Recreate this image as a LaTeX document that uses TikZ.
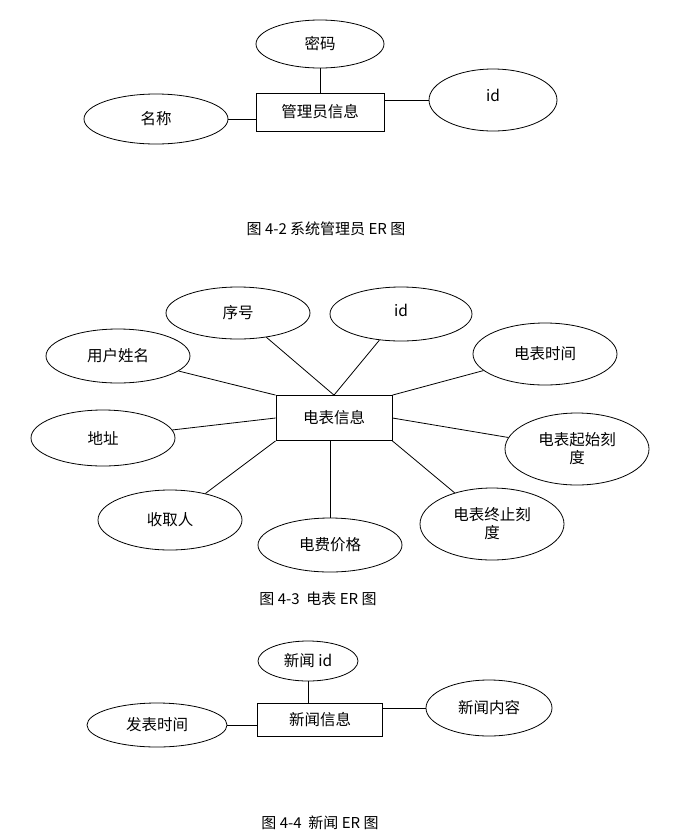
\documentclass[tikz,border=0pt]{standalone}
\usepackage{fontspec}
\setmainfont{Liberation Serif}
\newfontfamily\cjk{Noto Sans CJK SC}
\usetikzlibrary{shapes.geometric}
\begin{document}
\begin{tikzpicture}[x=1pt,y=-1pt,
  ell/.style={draw,ellipse,line width=0.8pt,inner sep=0pt,font=\cjk\fontsize{15.5}{18}\selectfont,align=center},
  ent/.style={draw,rectangle,line width=0.8pt,inner sep=0pt,font=\cjk\fontsize{15.5}{18}\selectfont},
  captxt/.style={font=\cjk\fontsize{15}{18}\selectfont},
  lnk/.style={line width=0.8pt}]
\useasboundingbox (0,0) rectangle (696,839);
% diagram 1
\node[ent,minimum width=128pt,minimum height=38pt] (m) at (320,112) {管理员信息};
\node[ell,minimum width=128pt,minimum height=48pt] (m1) at (320,44) {密码};
\node[ell,minimum width=128pt,minimum height=62pt] (m2) at (493,100) {\raisebox{10pt}{id}};
\node[ell,minimum width=144pt,minimum height=50pt] (m3) at (156,119) {名称};
\draw[lnk] (m1) -- (m);
\draw[lnk] (m2.west) -- (m.east |- m2.west);
\draw[lnk] (m3.east) -- (m.west |- m3.east);
\node[captxt] (c1) at (326,229) {图 4-2 系统管理员 ER 图};
% diagram 2
\node[ent,minimum width=116pt,minimum height=45pt] (e) at (334,418) {电表信息};
\node[ell,minimum width=144pt,minimum height=52pt] (e1) at (238,313) {序号};
\node[ell,minimum width=142pt,minimum height=54pt] (e2) at (401,314) {\raisebox{8pt}{id}};
\node[ell,minimum width=144pt,minimum height=54pt] (e3) at (118,356) {用户姓名};
\node[ell,minimum width=144pt,minimum height=62pt] (e4) at (545,354) {电表时间};
\node[ell,minimum width=144pt,minimum height=56pt] (e5) at (103,438) {地址};
\node[ell,minimum width=144pt,minimum height=72pt] (e6) at (577,449) {电表起始刻\\度};
\node[ell,minimum width=144pt,minimum height=60pt] (e7) at (170,520) {收取人};
\node[ell,minimum width=144pt,minimum height=54pt] (e8) at (330,545) {电费价格};
\node[ell,minimum width=144pt,minimum height=72pt] (e9) at (492,524) {电表终止刻\\度};
\draw[lnk] (e1) -- (e.north);
\draw[lnk] (e2) -- (e.north);
\draw[lnk] (e3) -- (e.north west);
\draw[lnk] (e4) -- (e.north east);
\draw[lnk] (e5) -- (e.west);
\draw[lnk] (e6) -- (e.east);
\draw[lnk] (e7) -- (e.south west);
\draw[lnk] (e8.north) -- (e8.north |- e.south);
\draw[lnk] (e9) -- (e.south east);
\node[captxt] (c2) at (318,599) {图 4-3\ \ 电表 ER 图};
% diagram 3
\node[ent,minimum width=125pt,minimum height=33pt] (n) at (320,720) {新闻信息};
\node[ell,minimum width=100pt,minimum height=40pt] (n1) at (308,661) {新闻 id};
\node[ell,minimum width=126pt,minimum height=56pt] (n2) at (489,708) {新闻内容};
\node[ell,minimum width=140pt,minimum height=44pt] (n3) at (157,725) {发表时间};
\draw[lnk] (n1.south) -- (n1.south |- n.north);
\draw[lnk] (n2.west) -- (n.east |- n2.west);
\draw[lnk] (n3.east) -- (n.west |- n3.east);
\node[captxt] (c3) at (320,823) {图 4-4\ \ 新闻 ER 图};
\end{tikzpicture}
\end{document}
